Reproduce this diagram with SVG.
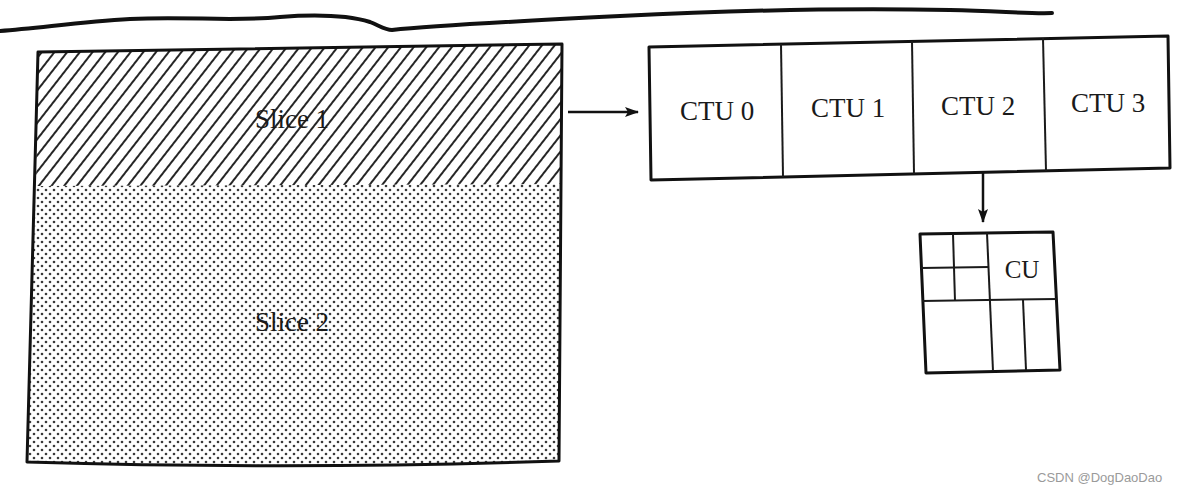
<svg xmlns="http://www.w3.org/2000/svg" width="1198" height="492" viewBox="0 0 1198 492">
<style>
.frame{fill:none;stroke:#111;stroke-width:3;stroke-linejoin:round}
.thin{fill:none;stroke:#1a1a1a;stroke-width:2}
.lbl{font-family:"Liberation Serif","Times New Roman",serif;fill:#1a1a1a;text-anchor:middle}
.wm{font-family:"Liberation Sans",Arial,sans-serif;font-size:13px;fill:#9a9a9a}
</style>
<defs>
<pattern id="hatch" patternUnits="userSpaceOnUse" width="10" height="10" patternTransform="rotate(-52)">
<line x1="0" y1="5" x2="10" y2="5" stroke="#1a1a1a" stroke-width="1.9"/>
</pattern>
<pattern id="dots" patternUnits="userSpaceOnUse" width="8" height="8">
<circle cx="2" cy="2" r="1.3" fill="#3a3a3a"/>
<circle cx="6" cy="6" r="1.3" fill="#3a3a3a"/>
</pattern>
<marker id="ah" viewBox="0 0 14 10" refX="13" refY="5" markerWidth="14" markerHeight="10" markerUnits="userSpaceOnUse" orient="auto">
<path d="M0,0 L14,5 L0,10 L3,5 Z" fill="#111"/>
</marker>
</defs>
<rect width="1198" height="492" fill="#ffffff"/>
<path d="M0,31 C40,28 80,22 130,19 C190,16 230,22 280,17 C320,14 350,16 370,22 C380,26 385,30 392,30 C430,26 520,21 620,16 C720,11 850,8 950,10 C1000,11 1030,14 1052,13" fill="none" stroke="#111" stroke-width="4" stroke-linecap="round"/>
<g id="picture">
<g id="slice1">
<path d="M38,52 L562,44 L561,184 L36,186 Z" fill="url(#hatch)"/>
<text class="lbl" x="292" y="128" font-size="27">Slice 1</text>
</g>
<g id="slice2">
<path d="M36,186 L561,184 L559,461 Q300,470 27,462 Z" fill="url(#dots)"/>
<text class="lbl" x="292" y="331" font-size="27">Slice 2</text>
</g>
<path class="frame" d="M38,52 L562,44 L559,461 Q300,470 27,462 Z"/>
</g>
<g id="ctu-row">
<path class="frame" d="M649,47 L1168,36 L1170,168 L651,180 Z"/>
<line class="thin" x1="781" y1="44" x2="783" y2="177"/>
<line class="thin" x1="912" y1="41" x2="914" y2="174"/>
<line class="thin" x1="1043" y1="38" x2="1046" y2="171"/>
<text class="lbl" x="717" y="120" font-size="27">CTU 0</text>
<text class="lbl" x="848" y="117" font-size="27">CTU 1</text>
<text class="lbl" x="978" y="115" font-size="27">CTU 2</text>
<text class="lbl" x="1108" y="112" font-size="27">CTU 3</text>
</g>
<g id="cu-block">
<path class="frame" d="M920,234 L1053,232 L1060,370 L926,373 Z"/>
<line class="thin" x1="987" y1="233" x2="993" y2="371"/>
<line class="thin" x1="922" y1="301" x2="1057" y2="299"/>
<line class="thin" x1="953" y1="234" x2="955" y2="301"/>
<line class="thin" x1="921" y1="268" x2="989" y2="267"/>
<line class="thin" x1="1023" y1="300" x2="1026" y2="370"/>
<text class="lbl" x="1022" y="278" font-size="25">CU</text>
</g>
<g id="connectors">
<line x1="568" y1="112" x2="638" y2="112" stroke="#111" stroke-width="2.5" marker-end="url(#ah)"/>
<line x1="983" y1="172" x2="983" y2="222" stroke="#111" stroke-width="2.5" marker-end="url(#ah)"/>
</g>
<text class="wm" x="1037" y="482">CSDN @DogDaoDao</text>
</svg>
